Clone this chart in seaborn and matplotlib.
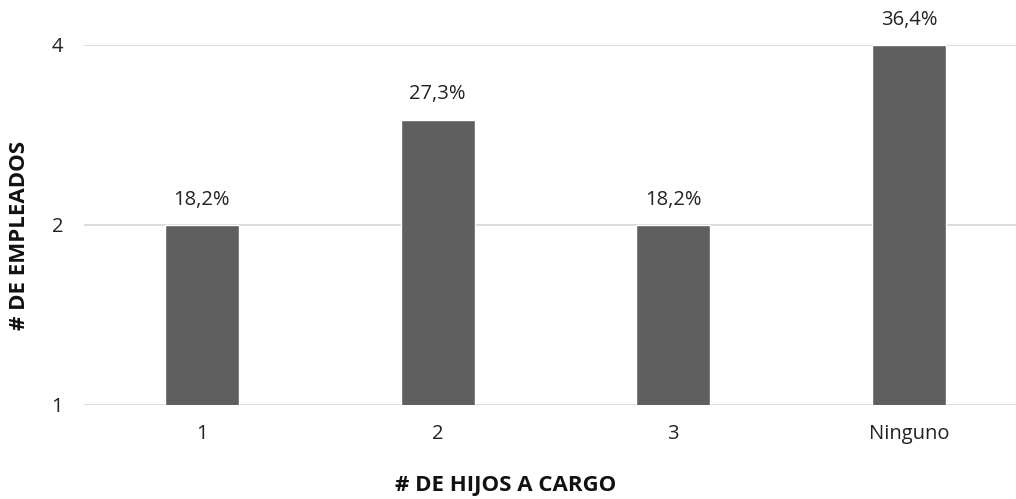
import matplotlib
matplotlib.use("Agg")
import matplotlib.pyplot as plt
from matplotlib.ticker import FixedLocator, FixedFormatter, NullLocator
import seaborn as sns
import pandas as pd

categories = ["1", "2", "3", "Ninguno"]
empleados = [2, 3, 2, 4]
y_ticks = [1, 2, 4]

sns.set_theme(style="white")
plt.rcParams["font.family"] = ["Open Sans", "DejaVu Sans"]

df = pd.DataFrame({"hijos": categories, "empleados": empleados})

fig = plt.figure(figsize=(10.16, 4.99), dpi=100)
ax = fig.add_axes([84 / 1016, 94 / 499, (1016 - 84) / 1016, 360 / 499])

sns.barplot(data=df, x="hijos", y="empleados", color="#5f5f5f",
            saturation=1, width=0.314, ax=ax, zorder=3)

ax.set_yscale("log", base=2)
ax.set_ylim(1, 4)
ax.set_xlim(-0.5, (1016 - 84) / 235.7 - 0.5)
ax.yaxis.set_major_locator(FixedLocator(y_ticks))
ax.yaxis.set_major_formatter(FixedFormatter([str(t) for t in y_ticks]))
ax.yaxis.set_minor_locator(NullLocator())
ax.grid(axis="y", color="#d9d9d9", linewidth=1.3, zorder=0)
ax.set_axisbelow(True)
for s in ax.spines.values():
    s.set_visible(False)
ax.tick_params(axis="both", length=0, labelsize=14.5, colors="#222222")
ax.tick_params(axis="y", pad=15)
ax.tick_params(axis="x", pad=14)

total = sum(empleados)
for i, v in enumerate(empleados):
    pct = f"{v / total * 100:.1f}%".replace(".", ",")
    ax.annotate(pct, (i, v), xytext=(0, 11), textcoords="offset points",
                ha="center", va="bottom", fontsize=14.5, color="#222222",
                annotation_clip=False)

ax.set_xlabel("# DE HIJOS A CARGO", fontsize=16, fontweight="bold",
              color="#111111")
ax.set_ylabel("# DE EMPLEADOS", fontsize=16, fontweight="bold",
              color="#111111")
ax.xaxis.label.set_va("center")
ax.yaxis.label.set_va("center")
ax.xaxis.set_label_coords((506 - 84) / (1016 - 84), -(485 - 405) / 360)
ax.yaxis.set_label_coords(-(84 - 20) / (1016 - 84), (405 - 235) / 360)

fig.savefig("out.png", dpi=100)
